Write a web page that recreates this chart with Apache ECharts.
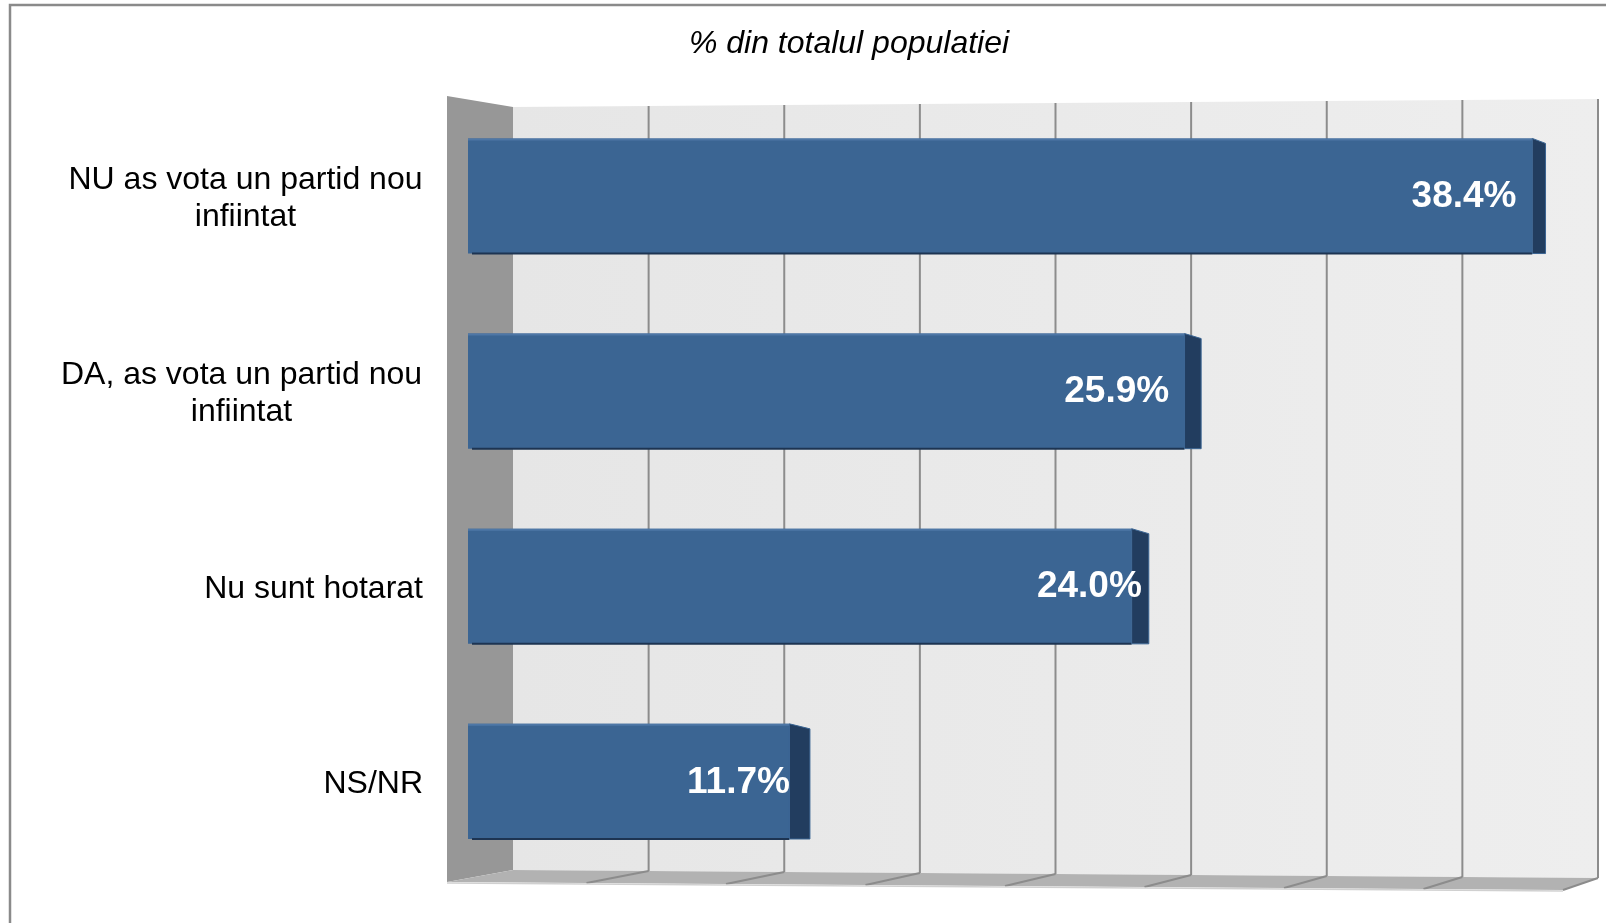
<!DOCTYPE html>
<html>
<head>
<meta charset="utf-8">
<script src="https://cdn.jsdelivr.net/npm/echarts@6/dist/echarts.min.js"></script>
<style>
html,body{margin:0;padding:0;background:#fff;}
#c{width:1606px;height:923px;}
</style>
</head>
<body>
<div id="c"></div>
<script>
const titleText = '% din totalul populatiei';
const categories = ['NU as vota un partid nou\ninfiintat', 'DA, as vota un partid nou\ninfiintat', 'Nu sunt hotarat', 'NS/NR'];
const values = [38.4, 25.9, 24.0, 11.7];
const axisTicks = [0, 5, 10, 15, 20, 25, 30, 35, 40];
const labelInset = [29, 32, 7, 20];

const FONT = '"Liberation Sans", Arial, Helvetica, sans-serif';
const catFont = 32;

// measure label lines for centered multi-line labels
const cv = document.createElement('canvas').getContext('2d');
cv.font = catFont + 'px ' + FONT;
const rich = { s: { fontSize: catFont, fontFamily: FONT, color: '#000', lineHeight: 37 } };
categories.forEach((c, i) => {
  const w = Math.max.apply(null, c.split('\n').map(l => cv.measureText(l).width));
  rich['c' + i] = { width: Math.ceil(w) + 1, align: 'center', fontSize: catFont, fontFamily: FONT, color: '#000', lineHeight: 37 };
});

const chart = echarts.init(document.getElementById('c'), null, { renderer: 'canvas' });

const option = {
  animation: false,
  backgroundColor: '#fff',
  title: {
    text: titleText, left: 844, top: 23, textAlign: 'center',
    textStyle: { fontFamily: FONT, fontStyle: 'italic', fontWeight: 'normal', fontSize: 32, color: '#000' }
  },
  grid: [
    { left: 513, right: 8, top: 103, bottom: 49 },
    { left: 487.6, right: 16.4, top: 98.4, bottom: 44 },
    { left: 447, right: 43, top: 878, height: 10 }
  ],
  xAxis: [
    { gridIndex: 0, type: 'value', min: axisTicks[0], max: axisTicks[axisTicks.length - 1], interval: 5, show: false },
    { gridIndex: 1, type: 'value', min: axisTicks[0], max: axisTicks[axisTicks.length - 1], interval: 5, show: false },
    { gridIndex: 2, type: 'value', min: axisTicks[0], max: axisTicks[axisTicks.length - 1], interval: 5, show: false }
  ],
  yAxis: [
    { gridIndex: 0, type: 'value', show: false },
    {
      gridIndex: 1, type: 'category', inverse: true, data: categories,
      axisLine: { show: false }, axisTick: { show: false }, splitLine: { show: false },
      axisLabel: {
        margin: 64.6, align: 'right', rich: rich, padding: [6, 0, 0, 0],
        formatter: function (val, idx) {
          const lines = val.split('\n');
          if (lines.length > 1) return lines.map(l => '{c' + idx + '|' + l + '}').join('\n');
          return '{s|' + val + '}';
        }
      }
    },
    { gridIndex: 2, type: 'value', show: false }
  ],
  series: [{
    type: 'custom',
    xAxisIndex: 1, yAxisIndex: 1,
    z: 10,
    encode: { x: 0, y: 1 },
    data: values.map((v, i) => [v, i]),
    renderItem: function (params, api) {
      const v = api.value(0), i = api.value(1);
      // front face begins slightly in front of the floor's zero line
      const x0 = api.coord([0, i])[0] - 19.6;
      const p = api.coord([v, i]);            // outer end of the 3D bar (incl. side face)
      const side = 23.6 - 0.27 * v;           // perspective: side face narrows towards the right
      const xf = p[0] - side;                 // end of front face
      const h = api.size([0, 1])[1] * 0.59;
      const top = p[1] - h / 2;
      return {
        type: 'group',
        children: [
          { type: 'rect', shape: { x: x0, y: top, width: xf - x0, height: h }, style: { fill: '#3B6593' } },
          { type: 'rect', shape: { x: x0, y: top, width: xf - x0, height: 2 }, style: { fill: '#4E77A6' } },
          { type: 'line', shape: { x1: x0 + 4, y1: top + h, x2: xf, y2: top + h }, style: { stroke: '#1D3452', lineWidth: 2 } },
          { type: 'polygon', shape: { points: [[xf, top], [p[0], top + 5], [p[0], top + h], [xf, top + h]] }, style: { fill: '#223D5F', stroke: '#3B6593', lineWidth: 1 } },
          { type: 'text', style: { text: v.toFixed(1) + '%', x: p[0] - labelInset[i], y: p[1] + 1, align: 'right', verticalAlign: 'middle', fill: '#fff', font: 'bold 37px ' + FONT } }
        ]
      };
    }
  }]
};
chart.setOption(option);

// 3D walls and floor derived from axis scales
const back = axisTicks.map(t => chart.convertToPixel({ xAxisIndex: 0 }, t));
const front = axisTicks.map(t => chart.convertToPixel({ xAxisIndex: 2 }, t));
const bx0 = back[0], bx1 = back[back.length - 1];
const fx0 = front[0], fx1 = front[front.length - 1];
const wallTop = x => 107 - 8 * (x - bx0) / (bx1 - bx0);
const wallBot = x => 870 + 8 * (x - bx0) / (bx1 - bx0);
const floorFront = x => 882 + 8 * (x - fx0) / (fx1 - fx0);

const g = [];
g.push({ type: 'polygon', z: -10, shape: { points: [[bx0, wallTop(bx0)], [bx1, wallTop(bx1)], [bx1, wallBot(bx1)], [bx0, wallBot(bx0)]] },
  style: { fill: new echarts.graphic.LinearGradient(0, 0, 1, 0, [{ offset: 0, color: '#E6E6E6' }, { offset: 1, color: '#EEEEEE' }]) } });
g.push({ type: 'polygon', z: -9, shape: { points: [[fx0, 96], [bx0, wallTop(bx0)], [bx0, wallBot(bx0)], [fx0, floorFront(fx0)]] }, style: { fill: '#979797' } });
g.push({ type: 'polygon', z: -9, shape: { points: [[bx0, wallBot(bx0)], [bx1, wallBot(bx1)], [fx1, floorFront(fx1)], [fx0, floorFront(fx0)]] }, style: { fill: '#B2B2B2' } });
back.forEach((x, k) => {
  if (k > 0) g.push({ type: 'line', z: -8, shape: { x1: x, y1: wallTop(x), x2: x, y2: wallBot(x) }, style: { stroke: '#8C8C8C', lineWidth: 2 } });
  if (k > 0) g.push({ type: 'line', z: -8, shape: { x1: x, y1: wallBot(x), x2: front[k], y2: floorFront(front[k]) }, style: { stroke: '#8C8C8C', lineWidth: 2 } });
});
g.push({ type: 'line', z: -8, shape: { x1: fx0, y1: floorFront(fx0) + 1, x2: fx1, y2: floorFront(fx1) + 1 }, style: { stroke: '#D0D0D0', lineWidth: 1.5 } });
g.push({ type: 'rect', z: 100, shape: { x: 10, y: 5, width: 1700, height: 1000 }, style: { fill: 'none', stroke: '#8A8A8A', lineWidth: 2.5 } });
chart.setOption({ graphic: { elements: g } });
</script>
</body>
</html>
